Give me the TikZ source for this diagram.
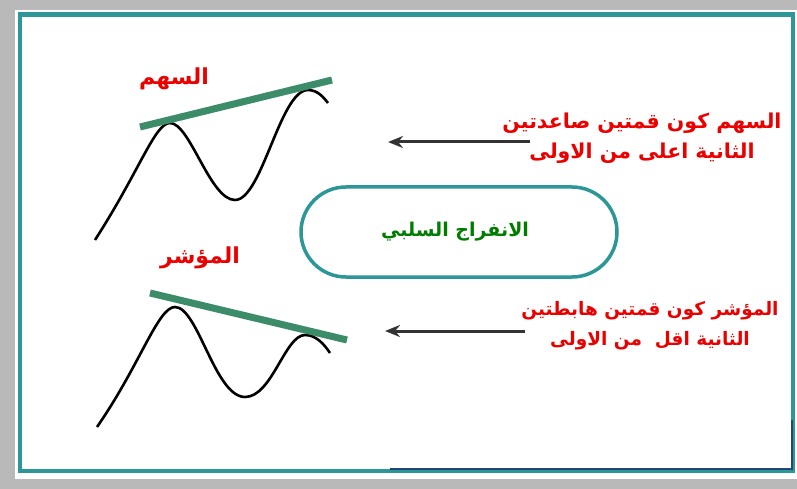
\documentclass[tikz,border=0pt]{standalone}
\usepackage{fontspec}
\usepackage{xcolor}
\usetikzlibrary{arrows.meta}
\newfontfamily\arabicfont[Script=Arabic]{DejaVu Sans}
\TeXXeTstate=1
\definecolor{frameteal}{RGB}{45,150,150}
\definecolor{framegray}{RGB}{185,185,185}
\definecolor{framenavy}{RGB}{35,70,120}
\definecolor{bargreen}{RGB}{60,140,105}
\definecolor{lblred}{RGB}{235,0,0}
\definecolor{lblgreen}{RGB}{0,125,0}

\begin{document}
\begin{tikzpicture}[x=1pt, y=-1pt,
    lbl/.style={font=\arabicfont\bfseries\fontsize{22}{26}\selectfont, text=lblred, inner sep=0pt},
    note/.style={font=\arabicfont\bfseries\fontsize{20.5}{30}\selectfont, text=lblred, align=center, inner sep=0pt},
    oval/.style={rectangle, draw=frameteal, line width=3.5pt, rounded corners=45pt, minimum width=316pt, minimum height=90pt, font=\arabicfont\bfseries\fontsize{19}{22}\selectfont, text=lblgreen},
    trend/.style={draw=bargreen, line width=7pt},
    wave/.style={draw=black, line width=2.6pt},
    arr/.style={-{Stealth[length=15pt, width=12pt]}, line width=3pt, draw=black!80}
]

% Frame
\fill[framegray] (0,0) rectangle (797,489);
\fill[white] (15,10) rectangle (797,479);
\draw[frameteal, line width=4.5pt] (20,14.5) rectangle (793,471);
\draw[framenavy, line width=1.5pt] (390,469) -- (792,469) -- (792,420);

% Price wave
\draw[wave] (95,240) .. controls (140,170) and (155,123) .. (170,123)
    .. controls (190,123) and (210,200) .. (235,200)
    .. controls (262,200) and (280,90) .. (308,90)
    .. controls (318,90) and (324,98) .. (328,103);
\draw[trend] (140,127) -- (332,80);
\node[lbl] (price) at (174,79) {\beginR السهم\endR};

% Indicator wave
\draw[wave] (97,427) .. controls (140,365) and (158,307) .. (175,307)
    .. controls (198,307) and (215,397) .. (245,397)
    .. controls (272,397) and (285,335) .. (305,335)
    .. controls (316,335) and (324,344) .. (330,353);
\draw[trend] (150,293) -- (347,340);
\node[lbl] (indicator) at (200,258) {\beginR المؤشر\endR};

% Divergence
\node[oval] (diverg) at (459,232) {};
\node[font=\arabicfont\bfseries\fontsize{19}{22}\selectfont, text=lblgreen] (divlbl) at (455,232) {\beginR الانفراج السلبي\endR};

% Notes
\node[note] (pricenote) at (642,138) {\beginR السهم كون قمتين صاعدتين\endR\\\beginR الثانية اعلى من الاولى\endR};
\node[note, font=\arabicfont\bfseries\fontsize{18.5}{30}\selectfont] (indnote) at (650,326) {\beginR المؤشر كون قمتين هابطتين\endR\\\beginR الثانية اقل\ \ من الاولى\endR};

% Arrows
\coordinate (pricefrom) at (530,142);
\coordinate (priceto) at (388,142);
\coordinate (indfrom) at (525,331);
\coordinate (indto) at (385,331);
\draw[arr] (pricefrom) -- (priceto);
\draw[arr] (indfrom) -- (indto);

\end{tikzpicture}
\end{document}
